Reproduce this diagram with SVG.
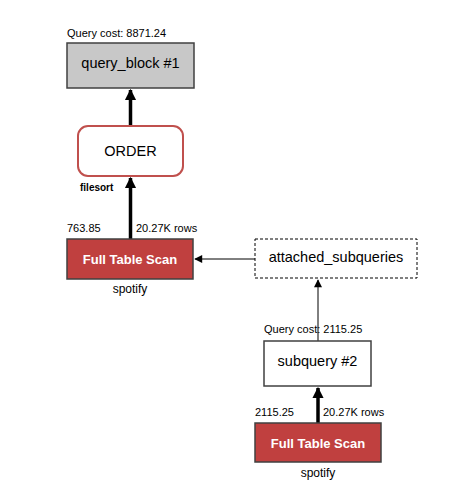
<svg xmlns="http://www.w3.org/2000/svg" width="469" height="491" viewBox="0 0 469 491">
<style>
text{font-family:"Liberation Sans",Arial,sans-serif;fill:#000}
.lbl{font-size:11px}
.big{font-size:14.5px;text-anchor:middle}
.fts rect{fill:#c0403f;stroke:#404040;stroke-width:1.5}
.fts text.t{fill:#fff;font-size:13px;font-weight:bold;text-anchor:middle}
.fts text.s{font-size:11px}
.fts text.cap{font-size:12px;text-anchor:middle}
.thick{stroke:#000;stroke-width:3.5;fill:none}
.thin{stroke:#000;stroke-width:1;fill:none}
</style>
<defs>
<marker id="ah" viewBox="0 0 10 10" refX="9" refY="5" markerWidth="3.2" markerHeight="3.6" orient="auto" markerUnits="strokeWidth"><path d="M0,0 L10,5 L0,10 z" fill="#000"/></marker>
<marker id="ahs" viewBox="0 0 10 10" refX="9" refY="5" markerWidth="10" markerHeight="8" orient="auto" markerUnits="strokeWidth"><path d="M0,0 L10,5 L0,10 z" fill="#000"/></marker>
</defs>
<rect width="469" height="491" fill="#fff"/>
<g id="connectors">
<line class="thick" x1="130.5" y1="126" x2="130.5" y2="90" marker-end="url(#ah)"/>
<line class="thick" x1="130.5" y1="239" x2="130.5" y2="178" marker-end="url(#ah)"/>
<line class="thin" x1="255" y1="259" x2="195" y2="259" marker-end="url(#ahs)"/>
<line class="thin" x1="318" y1="341" x2="318" y2="280" marker-end="url(#ahs)"/>
<line class="thick" x1="318" y1="423" x2="318" y2="388" marker-end="url(#ah)"/>
</g>
<g id="query_block">
<text class="lbl" x="67" y="37">Query cost: 8871.24</text>
<rect x="67" y="43" width="127" height="45" fill="#c8c8c8" stroke="#404040" stroke-width="1.5"/>
<text class="big" x="130.5" y="68">query_block #1</text>
</g>
<g id="order">
<rect x="78" y="126" width="105" height="50" rx="10" fill="#fff" stroke="#c0504d" stroke-width="2"/>
<text class="big" x="130.5" y="156">ORDER</text>
<text x="80" y="191" font-size="10" font-weight="bold">filesort</text>
</g>
<g id="fts1" class="fts">
<text class="s" x="67" y="232">763.85</text>
<text class="s" x="136" y="232">20.27K rows</text>
<rect x="67" y="239" width="126" height="40"/>
<text class="t" x="130" y="264">Full Table Scan</text>
<text class="cap" x="130" y="293">spotify</text>
</g>
<g id="attached_subqueries">
<rect x="255" y="239" width="162" height="39" fill="#fff" stroke="#000" stroke-width="1" stroke-dasharray="3,2"/>
<text class="big" x="336" y="262">attached_subqueries</text>
</g>
<g id="subquery2">
<text class="lbl" x="264" y="333">Query cost: 2115.25</text>
<rect x="264" y="341" width="107" height="45" fill="#fff" stroke="#404040" stroke-width="1.5"/>
<text class="big" x="317.5" y="366">subquery #2</text>
</g>
<g id="fts2" class="fts">
<text class="s" x="255" y="416">2115.25</text>
<text class="s" x="323" y="416">20.27K rows</text>
<rect x="255" y="423" width="126" height="39"/>
<text class="t" x="318" y="447.5">Full Table Scan</text>
<text class="cap" x="318" y="477">spotify</text>
</g>
</svg>
